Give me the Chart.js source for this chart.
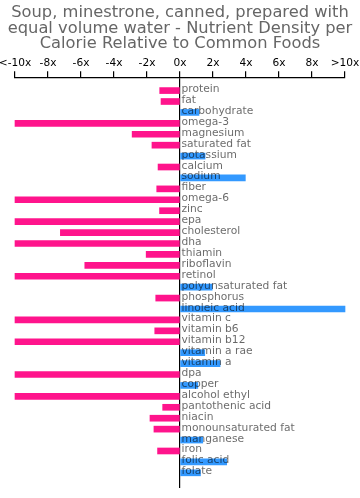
<!DOCTYPE html>
<html>
<head>
<meta charset="utf-8">
<script src="https://cdn.jsdelivr.net/npm/chart.js@4/dist/chart.umd.min.js"></script>
<style>
html,body{margin:0;padding:0;background:#fff;}
#wrap{width:360px;height:498px;position:relative;}
</style>
</head>
<body>
<div id="wrap"><canvas id="c"></canvas></div>
<script>
const titleLines = ["Soup, minestrone, canned, prepared with", "equal volume water - Nutrient Density per", "Calorie Relative to Common Foods"];
const categories = ["protein","fat","carbohydrate","omega-3","magnesium","saturated fat","potassium","calcium","sodium","fiber","omega-6","zinc","epa","cholesterol","dha","thiamin","riboflavin","retinol","polyunsaturated fat","phosphorus","linoleic acid","vitamin c","vitamin b6","vitamin b12","vitamin a rae","vitamin a","dpa","copper","alcohol ethyl","pantothenic acid","niacin","monounsaturated fat","manganese","iron","folic acid","folate"];
const values = [-1.23,-1.15,1.15,-10,-2.9,-1.7,1.52,-1.33,3.96,-1.41,-10,-1.24,-10,-7.25,-10,-2.05,-5.77,-10,1.95,-1.47,10,-10,-1.53,-10,1.5,2.43,-10,1.08,-10,-1.05,-1.82,-1.58,1.38,-1.36,2.83,1.24];
const tickValues = [-10,-8,-6,-4,-2,0,2,4,6,8,10];
const tickLabels = ["<-10x","-8x","-6x","-4x","-2x","0x","2x","4x","6x","8x",">10x"];

const FONT = "'DejaVu Sans', sans-serif";

const labelPlugin = {
  id: 'barLabels',
  afterDatasetsDraw(chart) {
    const ctx = chart.ctx;
    const xs = chart.scales.x, ys = chart.scales.y;
    const x0 = xs.getPixelForValue(0);
    ctx.save();
    ctx.font = "10.7px " + FONT;
    ctx.fillStyle = 'rgba(0,0,0,0.6)';
    ctx.textAlign = 'left';
    ctx.textBaseline = 'alphabetic';
    categories.forEach((c, i) => {
      ctx.fillText(c, x0 + 1.5, ys.getPixelForValue(i) + 1.5);
    });
    ctx.restore();
  }
};

new Chart(document.getElementById('c'), {
  type: 'bar',
  data: {
    datasets: [{
      data: values.map((v, i) => ({x: v, y: i})),
      backgroundColor: values.map(v => v < 0 ? 'rgb(255,20,140)' : 'rgb(51,153,255)'),
      borderWidth: 0,
      barThickness: 6,
      clip: false
    }]
  },
  options: {
    indexAxis: 'y',
    responsive: true,
    maintainAspectRatio: false,
    animation: false,
    events: [],
    layout: { padding: { left: 0, right: 0, top: 0, bottom: 10 } },
    plugins: {
      legend: { display: false },
      tooltip: { enabled: false },
      title: {
        display: true,
        text: titleLines,
        color: '#666',
        font: { family: FONT, size: 16.3, weight: 'normal', lineHeight: 0.96 },
        padding: { top: 5, bottom: 2.7 }
      }
    },
    scales: {
      x: {
        type: 'linear',
        position: 'top',
        min: -10, max: 10,
        afterBuildTicks(scale) { scale.ticks = tickValues.map(v => ({value: v})); },
        afterFit(scale) { scale.paddingLeft = 15; scale.paddingRight = 15; },
        ticks: {
          autoSkip: false,
          maxRotation: 0,
          color: '#000',
          padding: 2,
          font: { family: FONT, size: 10.6 },
          callback: (v) => tickLabels[tickValues.indexOf(v)]
        },
        grid: {
          color: (c) => (c.tick && c.tick.value === 0) ? '#000' : 'rgba(0,0,0,0)',
          tickColor: '#000',
          tickLength: 6,
          lineWidth: 1.2
        },
        border: { display: true, color: '#000', width: 1.2 }
      },
      y: {
        type: 'linear',
        display: false,
        reverse: true,
        offset: false,
        grid: { offset: false },
        min: -1.21,
        max: 36.39
      }
    }
  },
  plugins: [labelPlugin]
});
</script>
</body>
</html>
